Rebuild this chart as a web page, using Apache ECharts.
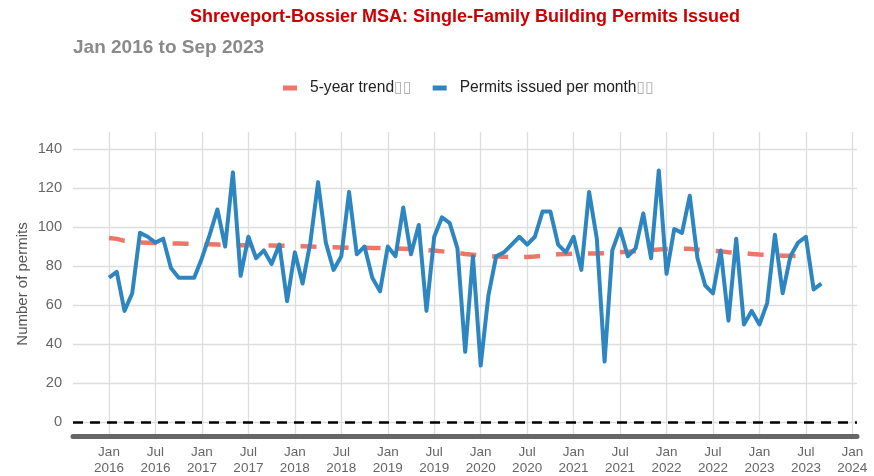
<!DOCTYPE html>
<html>
<head>
<meta charset="utf-8">
<script src="https://cdn.jsdelivr.net/npm/echarts@6/dist/echarts.min.js"></script>
<style>
  html, body { margin: 0; padding: 0; background: #ffffff; }
  #chart { width: 874px; height: 476px; }
</style>
</head>
<body>
<div id="chart"></div>
<script>
// Monthly single-family permits, Jan 2016 .. Sep 2023
const startYear = 2016;
const monthNames = ['Jan', 'Feb', 'Mar', 'Apr', 'May', 'Jun', 'Jul', 'Aug', 'Sep', 'Oct', 'Nov', 'Dec'];

const permits = [
  74, 77, 57, 66, 97, 95, 92, 94, 79, 74, 74, 74,
  84, 96, 109, 90, 128, 75, 95, 84, 88, 81, 91, 62,
  87, 71, 92, 123, 92, 78, 85, 118, 86, 90, 74, 67,
  90, 85, 110, 86, 101, 57, 95, 105, 102, 89, 36, 85,
  29, 65, 85, 87, 91, 95, 91, 95, 108, 108, 91, 87,
  95, 78, 118, 94, 31, 88, 99, 85, 89, 107, 84, 129,
  76, 99, 97, 116, 84, 70, 66, 88, 52, 94, 50, 57,
  50, 61, 96, 66, 85, 92, 95, 68, 71
];

// 5-year trend, Jan 2016 .. Jul 2023
const trend = [
  94.4, 93.9, 92.9, 92.3, 92.0, 91.9, 91.8, 91.7, 91.6, 91.5, 91.4, 91.3,
  91.2, 91.1, 91.0, 90.9, 90.8, 90.7, 90.6, 90.6, 90.5, 90.5, 90.4, 90.3,
  90.2, 90.1, 90.0, 89.9, 89.7, 89.6, 89.5, 89.4, 89.3, 89.3, 89.2, 89.2,
  89.1, 89.0, 88.9, 88.7, 88.5, 88.2, 87.9, 87.5, 87.1, 86.7, 86.2, 85.8,
  85.4, 85.1, 84.9, 84.7, 84.6, 84.5, 84.6, 84.9, 85.3, 85.7, 86.0, 86.2,
  86.3, 86.4, 86.4, 86.4, 86.5, 86.7, 87.0, 87.3, 87.6, 87.9, 88.2, 88.5,
  88.7, 88.9, 88.9, 88.8, 88.4, 88.1, 87.8, 87.5, 87.1, 86.8, 86.5, 86.2,
  85.9, 85.7, 85.5, 85.3, 85.2, 85.0, 84.9
];

// Month offsets (from Jan 2016) that carry x tick labels
const xTicks = [0, 6, 12, 18, 24, 30, 36, 42, 48, 54, 60, 66, 72, 78, 84, 90, 96];
const yTicks = [0, 20, 40, 60, 80, 100, 120, 140];

const FONT = "'Liberation Sans', Arial, sans-serif";

function monthLabel(i) {
  const m = ((Math.round(i) % 12) + 12) % 12;
  const y = startYear + Math.floor(Math.round(i) / 12);
  return monthNames[m] + '\n' + y;
}

const permitData = permits.map((v, i) => [i, v]);
const trendData = trend.map((v, i) => [i, v]);

const chart = echarts.init(document.getElementById('chart'), null, { renderer: 'canvas' });

chart.setOption({
  animation: false,
  backgroundColor: '#ffffff',
  title: [
    {
      text: 'Shreveport-Bossier MSA: Single-Family Building Permits Issued',
      left: 460,
      textAlign: 'center',
      top: 3,
      textStyle: { fontFamily: FONT, fontSize: 18, fontWeight: 'bold', color: '#cc0000' }
    },
    {
      text: 'Jan 2016 to Sep 2023',
      left: 68,
      top: 33,
      textStyle: { fontFamily: FONT, fontSize: 19, fontWeight: 'bold', color: '#8a8a8a' }
    }
  ],
  legend: {
    top: 75,
    left: 278,
    itemWidth: 14,
    itemHeight: 5,
    itemGap: 21,
    icon: 'rect',
    data: ['5-year trend', 'Permits issued per month'],
    formatter: name => '{n|' + name + '}{b|\u25AF\u25AF}',
    textStyle: {
      fontFamily: FONT,
      fontSize: 15.6,
      color: '#222222',
      padding: [0, 0, 0, 8],
      rich: {
        n: { fontFamily: FONT, fontSize: 15.6, color: '#222222' },
        b: { fontFamily: "'DejaVu Sans', sans-serif", fontSize: 16, color: '#b0b0b0' }
      }
    }
  },
  grid: { left: 73, right: 17, top: 132, bottom: 39, containLabel: false },
  xAxis: {
    type: 'value',
    min: -4.65,
    max: 96.6,
    axisLine: { show: true, onZero: false, lineStyle: { color: '#666666', width: 5 } },
    axisTick: { show: false, customValues: xTicks },
    axisLabel: {
      customValues: xTicks,
      formatter: v => monthLabel(v),
      fontFamily: FONT,
      fontSize: 13.5,
      lineHeight: 16,
      color: '#666666',
      margin: 8
    },
    splitLine: { show: true, lineStyle: { color: '#dddddd', width: 1.3 } }
  },
  yAxis: {
    type: 'value',
    min: -7.15,
    max: 148.7,
    name: 'Number of permits',
    nameLocation: 'middle',
    nameGap: 43,
    nameMoveOverlap: false,
    nameTextStyle: { fontFamily: FONT, fontSize: 15, color: '#555555' },
    axisLine: { show: false },
    axisTick: { show: false, customValues: yTicks },
    axisLabel: {
      customValues: yTicks,
      fontFamily: FONT,
      fontSize: 14.6,
      color: '#666666',
      margin: 11
    },
    splitLine: { show: true, lineStyle: { color: '#dddddd', width: 1.3 } }
  },
  series: [
    {
      name: '5-year trend',
      type: 'line',
      data: trendData,
      showSymbol: false,
      symbol: 'none',
      smooth: false,
      color: '#ef7566',
      lineStyle: { color: '#ef7566', width: 4.5, type: [16, 16] },
      z: 3,
      markLine: {
        silent: true,
        symbol: 'none',
        label: { show: false },
        lineStyle: { color: '#000000', width: 2.6, type: [10, 7] },
        data: [{ yAxis: 0 }]
      }
    },
    {
      name: 'Permits issued per month',
      type: 'line',
      data: permitData,
      showSymbol: false,
      symbol: 'none',
      color: '#2e86c1',
      lineStyle: { color: '#2e86c1', width: 4, join: 'round' },
      z: 4
    }
  ]
});
</script>
</body>
</html>
